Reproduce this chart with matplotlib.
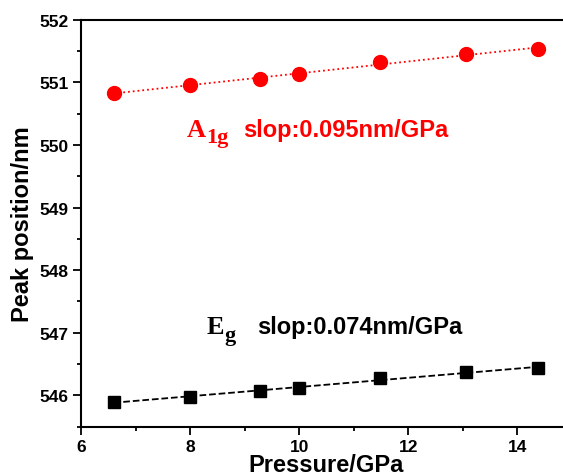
import numpy as np
import matplotlib
matplotlib.use("Agg")
import matplotlib.pyplot as plt
from matplotlib.ticker import MultipleLocator

# données
pression = [6.6, 8.0, 9.28, 10.0, 11.48, 13.05, 14.38]
a1g = [550.83, 550.95, 551.05, 551.13, 551.33, 551.45, 551.53]
eg = [545.89, 545.98, 546.07, 546.12, 546.27, 546.37, 546.44]

plt.rcParams['font.family'] = 'Liberation Sans'
plt.rcParams['font.weight'] = 'bold'

fig = plt.figure(figsize=(5.63, 4.77), dpi=100)
ax = fig.add_axes([0.1439, 0.1034, 0.872, 0.8532])

x = np.array(pression)
for y, style, col, mk, ms in [(a1g, ':', 'red', 'o', 10), (eg, '--', 'black', 's', 8.5)]:
    p = np.polyfit(x, y, 1)
    xx = np.array([x[0], x[-1]])
    ax.plot(xx, np.polyval(p, xx), style, color=col, lw=1.3)
    ax.plot(x, y, mk, color=col, ms=ms, ls='none')

ax.set_xlim(6, 15)
ax.set_ylim(545.5, 552)
ax.xaxis.set_major_locator(MultipleLocator(2))
ax.xaxis.set_minor_locator(MultipleLocator(1))
ax.yaxis.set_major_locator(MultipleLocator(1))
ax.yaxis.set_minor_locator(MultipleLocator(0.5))
ax.tick_params(which='both', direction='out', width=1.3, labelsize=12.5)
ax.tick_params(which='major', length=6, pad=3)
ax.tick_params(which='minor', length=3)
for s in ax.spines.values():
    s.set_linewidth(1.5)
ax.spines['right'].set_visible(False)

ax.set_xlabel('Pressure/GPa', fontsize=17, fontweight='bold', labelpad=-1)
ax.set_ylabel('Peak position/nm', fontsize=17, fontweight='bold', labelpad=4)

# étiquettes des modes : lettre en Times gras, indice décalé
serif = 'Liberation Serif'
def mode(xd, yd, lettre, indice, col, decal):
    ax.text(xd, yd, lettre, color=col, fontsize=19, family=serif, fontweight='bold', va='baseline')
    ax.annotate(indice, (xd, yd), xytext=(decal, -4.5), textcoords='offset points',
                color=col, fontsize=16, family=serif, fontweight='bold', va='baseline')

mode(7.945, 550.14, 'A', '1g', 'red', 13.6)
ax.text(8.97, 550.14, 'slop:0.095nm/GPa', color='red', fontsize=17, fontweight='bold', va='baseline')
mode(8.31, 546.99, 'E', 'g', 'black', 12.6)
ax.text(9.23, 546.99, 'slop:0.074nm/GPa', color='black', fontsize=17, fontweight='bold', va='baseline')

fig.savefig('out.png', dpi=100)
